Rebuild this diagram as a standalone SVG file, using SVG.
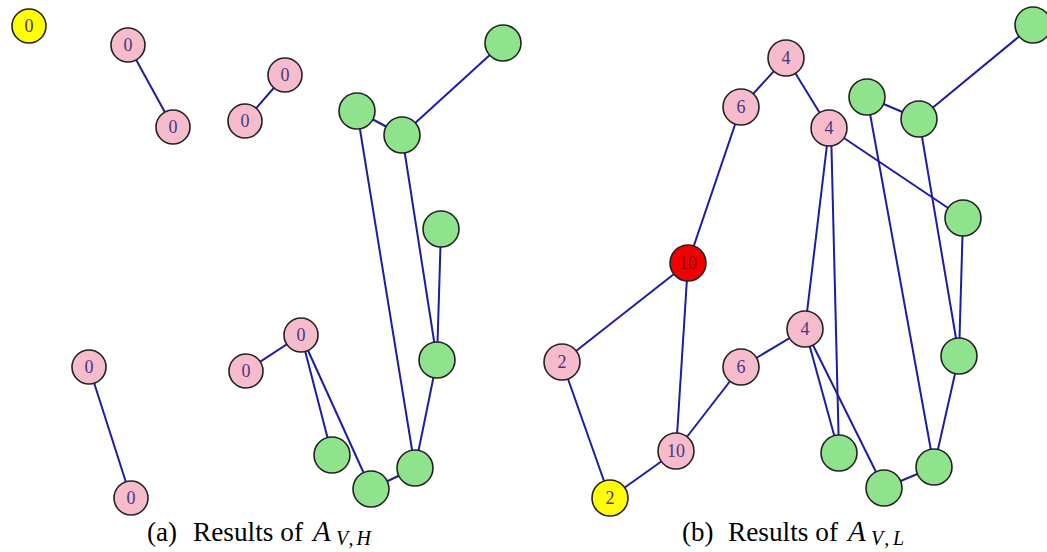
<svg xmlns="http://www.w3.org/2000/svg" width="1047" height="552" viewBox="0 0 1047 552">
<style>
.e{stroke:#1c1ca8;stroke-width:2;fill:none}
.n{stroke:#222;stroke-width:1.6}
.p{fill:#f6bccb}.g{fill:#8fe38c}.y{fill:#ffff00}.r{fill:#f20000}
.t{font-family:"Liberation Serif",serif;font-size:18px;fill:#4a3680;text-anchor:middle}
.c{font-family:"Liberation Serif",serif;font-size:27px;fill:#000}
.ci{font-family:"Liberation Serif",serif;font-style:italic;fill:#000}
</style>
<rect width="1047" height="552" fill="#fff"/>
<g id="connectors">
<line class="e" x1="128" y1="45" x2="173" y2="127"/>
<line class="e" x1="285" y1="75" x2="245" y2="121"/>
<line class="e" x1="357" y1="111" x2="402" y2="135"/>
<line class="e" x1="402" y1="135" x2="503" y2="43"/>
<line class="e" x1="357" y1="111" x2="415" y2="468"/>
<line class="e" x1="402" y1="135" x2="437" y2="360"/>
<line class="e" x1="441" y1="229" x2="437" y2="360"/>
<line class="e" x1="437" y1="360" x2="415" y2="468"/>
<line class="e" x1="371" y1="489" x2="415" y2="468"/>
<line class="e" x1="301" y1="335" x2="246" y2="371"/>
<line class="e" x1="301" y1="335" x2="332" y2="455"/>
<line class="e" x1="301" y1="335" x2="371" y2="489"/>
<line class="e" x1="89" y1="367" x2="131" y2="498"/>
<line class="e" x1="786" y1="58" x2="741" y2="107"/>
<line class="e" x1="786" y1="58" x2="829" y2="128"/>
<line class="e" x1="741" y1="107" x2="688" y2="263"/>
<line class="e" x1="829" y1="128" x2="963" y2="218"/>
<line class="e" x1="867" y1="97" x2="919" y2="119"/>
<line class="e" x1="919" y1="119" x2="1033" y2="25"/>
<line class="e" x1="829" y1="128" x2="805" y2="329"/>
<line class="e" x1="831" y1="128" x2="839" y2="453"/>
<line class="e" x1="867" y1="97" x2="934" y2="467"/>
<line class="e" x1="919" y1="119" x2="959" y2="356"/>
<line class="e" x1="963" y1="218" x2="959" y2="356"/>
<line class="e" x1="959" y1="356" x2="934" y2="467"/>
<line class="e" x1="884" y1="488" x2="934" y2="467"/>
<line class="e" x1="805" y1="329" x2="839" y2="453"/>
<line class="e" x1="805" y1="329" x2="884" y2="488"/>
<line class="e" x1="805" y1="329" x2="741" y2="367"/>
<line class="e" x1="741" y1="367" x2="676" y2="451"/>
<line class="e" x1="688" y1="263" x2="676" y2="451"/>
<line class="e" x1="688" y1="263" x2="562" y2="362"/>
<line class="e" x1="562" y1="362" x2="610" y2="498"/>
<line class="e" x1="610" y1="498" x2="676" y2="451"/>
</g>
<g id="a-y0"><circle class="n y" cx="29" cy="26" r="17"/><text class="t" x="29" y="32">0</text></g>
<g id="a-p1"><circle class="n p" cx="128" cy="45" r="17"/><text class="t" x="128" y="51">0</text></g>
<g id="a-p2"><circle class="n p" cx="173" cy="127" r="17"/><text class="t" x="173" y="133">0</text></g>
<g id="a-p3"><circle class="n p" cx="285" cy="75" r="17"/><text class="t" x="285" y="81">0</text></g>
<g id="a-p4"><circle class="n p" cx="245" cy="121" r="17"/><text class="t" x="245" y="127">0</text></g>
<g id="a-p5"><circle class="n p" cx="301" cy="335" r="17"/><text class="t" x="301" y="341">0</text></g>
<g id="a-p6"><circle class="n p" cx="246" cy="371" r="17"/><text class="t" x="246" y="377">0</text></g>
<g id="a-p7"><circle class="n p" cx="89" cy="367" r="17"/><text class="t" x="89" y="373">0</text></g>
<g id="a-p8"><circle class="n p" cx="131" cy="498" r="17"/><text class="t" x="131" y="504">0</text></g>
<g id="a-g1"><circle class="n g" cx="357" cy="111" r="18"/></g>
<g id="a-g2"><circle class="n g" cx="402" cy="135" r="18"/></g>
<g id="a-g3"><circle class="n g" cx="503" cy="43" r="18"/></g>
<g id="a-g4"><circle class="n g" cx="441" cy="229" r="18"/></g>
<g id="a-g5"><circle class="n g" cx="437" cy="360" r="18"/></g>
<g id="a-g6"><circle class="n g" cx="332" cy="455" r="18"/></g>
<g id="a-g7"><circle class="n g" cx="371" cy="489" r="18"/></g>
<g id="a-g8"><circle class="n g" cx="415" cy="468" r="18"/></g>
<g id="b-p4a"><circle class="n p" cx="786" cy="58" r="18"/><text class="t" x="786" y="64">4</text></g>
<g id="b-p6a"><circle class="n p" cx="741" cy="107" r="18"/><text class="t" x="741" y="113">6</text></g>
<g id="b-p4b"><circle class="n p" cx="829" cy="128" r="18"/><text class="t" x="829" y="134">4</text></g>
<g id="b-r10"><circle class="n r" cx="688" cy="263" r="18"/><text class="t" x="688" y="269" style="fill:#8a0010">10</text></g>
<g id="b-p2"><circle class="n p" cx="562" cy="362" r="18"/><text class="t" x="562" y="368">2</text></g>
<g id="b-p4c"><circle class="n p" cx="805" cy="329" r="18"/><text class="t" x="805" y="335">4</text></g>
<g id="b-p6b"><circle class="n p" cx="741" cy="367" r="18"/><text class="t" x="741" y="373">6</text></g>
<g id="b-p10"><circle class="n p" cx="676" cy="451" r="18"/><text class="t" x="676" y="457">10</text></g>
<g id="b-y2"><circle class="n y" cx="610" cy="498" r="18"/><text class="t" x="610" y="504">2</text></g>
<g id="b-g1"><circle class="n g" cx="867" cy="97" r="18"/></g>
<g id="b-g2"><circle class="n g" cx="919" cy="119" r="18"/></g>
<g id="b-g3"><circle class="n g" cx="1033" cy="25" r="18"/></g>
<g id="b-g4"><circle class="n g" cx="963" cy="218" r="18"/></g>
<g id="b-g5"><circle class="n g" cx="959" cy="356" r="18"/></g>
<g id="b-g6"><circle class="n g" cx="839" cy="453" r="18"/></g>
<g id="b-g7"><circle class="n g" cx="884" cy="488" r="18"/></g>
<g id="b-g8"><circle class="n g" cx="934" cy="467" r="18"/></g>
<g id="caption-a">
<text class="c" x="147" y="541">(a)</text>
<text class="c" x="193" y="541" textLength="110" lengthAdjust="spacingAndGlyphs">Results of</text>
<text class="ci" x="313" y="541" font-size="29">A</text>
<text class="ci" x="336" y="545" font-size="20" textLength="35" lengthAdjust="spacing">V,H</text>
</g>
<g id="caption-b">
<text class="c" x="682" y="541">(b)</text>
<text class="c" x="728" y="541" textLength="110" lengthAdjust="spacingAndGlyphs">Results of</text>
<text class="ci" x="848" y="541" font-size="29">A</text>
<text class="ci" x="871" y="545" font-size="20" textLength="33" lengthAdjust="spacing">V,L</text>
</g>
</svg>
